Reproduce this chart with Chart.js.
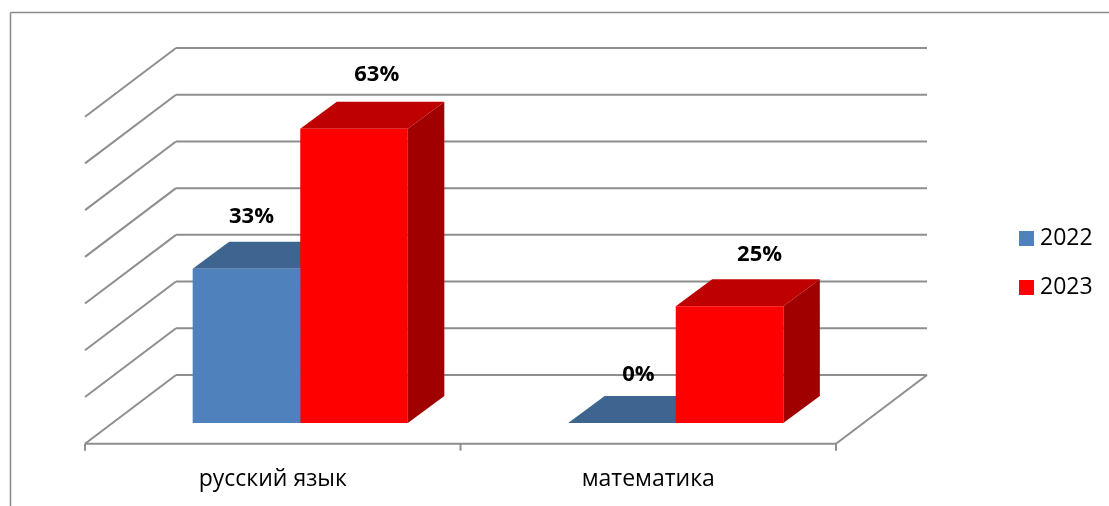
<!DOCTYPE html>
<html>
<head>
<meta charset="utf-8">
<style>
  html, body { margin: 0; padding: 0; background: #fff; }
  canvas { display: block; }
</style>
<script src="https://cdn.jsdelivr.net/npm/chart.js@4"></script>
</head>
<body>
<canvas id="chart" width="1109" height="506"></canvas>
<script>
// Chart data
const categories = ['русский язык', 'математика'];
const seriesNames = ['2022', '2023'];
const values2022 = [33, 0];
const values2023 = [63, 25];
const gridValues = [0, 10, 20, 30, 40, 50, 60, 70];

// Colours
const GRID = '#8e8e8e';
const BLUE = { front: '#4f81bd', top: '#3e6490', side: '#2f4f75' };
const RED = { front: '#ff0000', top: '#bf0000', side: '#a00000' };
const FACES = [BLUE, RED];

// The bars stand on a plane inside the 3D box, these are shifts from that plane
const WALL = { x: 63.5, y: -48 };
const FLOOR_EDGE = { x: -27.5, y: 20.7 };
const BAR_DEPTH = { x: 36.5, y: -27 };

// Hand placed offsets of the value labels from the top centre of their bars
const LABEL_SHIFT = [
  [[5, -52], [16.5, -48]],
  [[22.7, -54], [30, -51]]
];

function poly(ctx, color, pts) {
  ctx.fillStyle = color;
  ctx.beginPath();
  pts.forEach((p, i) => (i ? ctx.lineTo(p[0], p[1]) : ctx.moveTo(p[0], p[1])));
  ctx.closePath();
  ctx.fill();
}

function line(ctx, x1, y1, x2, y2) {
  ctx.beginPath();
  ctx.moveTo(x1, y1);
  ctx.lineTo(x2, y2);
  ctx.stroke();
}

// Frame, walls and floor of the 3D box
const boxPlugin = {
  id: 'box',
  beforeDatasetsDraw(chart) {
    const ctx = chart.ctx;
    const { left, right } = chart.chartArea;
    const y = chart.scales.y;
    ctx.save();

    // outer frame
    ctx.strokeStyle = '#8a8a8a';
    ctx.lineWidth = 1.5;
    line(ctx, 10.5, 506, 10.5, 12.5);
    line(ctx, 10.5, 12.5, 1109, 12.5);

    // grid lines, back wall and left wall
    ctx.strokeStyle = GRID;
    ctx.lineWidth = 2;
    gridValues.forEach(v => {
      const py = y.getPixelForValue(v);
      const bx = left + WALL.x;
      const by = py + WALL.y;
      line(ctx, left + FLOOR_EDGE.x, py + FLOOR_EDGE.y, bx, by);
      line(ctx, bx, by, right + WALL.x, by);
    });

    // floor
    const base = y.getPixelForValue(0);
    const fy = base + FLOOR_EDGE.y;
    line(ctx, left + FLOOR_EDGE.x, fy, right + FLOOR_EDGE.x, fy);
    line(ctx, right + FLOOR_EDGE.x, fy, right + WALL.x, base + WALL.y);

    // ticks between the categories
    const step = (right - left) / categories.length;
    for (let i = 0; i <= categories.length; i++) {
      const tx = left + FLOOR_EDGE.x + i * step;
      line(ctx, tx, fy, tx, fy + 7);
    }

    // top and side faces of the bars
    chart.data.datasets.forEach((ds, d) => {
      chart.getDatasetMeta(d).data.forEach(bar => {
        const x1 = bar.x - bar.width / 2;
        const x2 = bar.x + bar.width / 2;
        const dx = BAR_DEPTH.x;
        const dy = BAR_DEPTH.y;
        poly(ctx, FACES[d].side, [[x2, bar.y], [x2 + dx, bar.y + dy], [x2 + dx, bar.base + dy], [x2, bar.base]]);
        poly(ctx, FACES[d].top, [[x1, bar.y], [x1 + dx, bar.y + dy], [x2 + dx, bar.y + dy], [x2, bar.y]]);
      });
    });
    ctx.restore();
  },
  afterDatasetsDraw(chart) {
    const ctx = chart.ctx;
    ctx.save();

    // value labels
    ctx.fillStyle = '#000';
    ctx.font = 'bold 22px "Open Sans", sans-serif';
    ctx.textAlign = 'center';
    ctx.textBaseline = 'middle';
    chart.data.datasets.forEach((ds, d) => {
      chart.getDatasetMeta(d).data.forEach((bar, i) => {
        const shift = LABEL_SHIFT[d][i];
        ctx.fillText(ds.data[i] + '%', bar.x + shift[0], bar.y + shift[1]);
      });
    });

    // legend
    ctx.font = '23px "Open Sans", sans-serif';
    ctx.textAlign = 'left';
    chart.data.datasets.forEach((ds, d) => {
      const ly = 238.5 + d * 49;
      ctx.fillStyle = ds.backgroundColor;
      ctx.fillRect(1019, ly - 7.5, 15, 15);
      ctx.fillStyle = '#000';
      ctx.fillText(ds.label, 1040, ly);
    });
    ctx.restore();
  }
};

new Chart(document.getElementById('chart'), {
  type: 'bar',
  data: {
    labels: categories,
    datasets: [
      { label: seriesNames[0], data: values2022, backgroundColor: BLUE.front },
      { label: seriesNames[1], data: values2023, backgroundColor: RED.front }
    ]
  },
  options: {
    responsive: false,
    animation: false,
    layout: { padding: { left: 112.5, right: 245.5, top: 96, bottom: 0 } },
    datasets: { bar: { barPercentage: 1, categoryPercentage: 0.573, borderWidth: 0 } },
    plugins: {
      legend: { display: false },
      tooltip: { enabled: false }
    },
    scales: {
      x: {
        grid: { display: false },
        border: { display: false },
        afterFit(scale) { scale.height = 83; },
        ticks: {
          color: '#000',
          font: { family: '"Open Sans", sans-serif', size: 23 },
          padding: 35,
          labelOffset: FLOOR_EDGE.x,
          maxRotation: 0,
          autoSkip: false
        }
      },
      y: { display: false, min: 0, max: 70 }
    }
  },
  plugins: [boxPlugin]
});
</script>
</body>
</html>
